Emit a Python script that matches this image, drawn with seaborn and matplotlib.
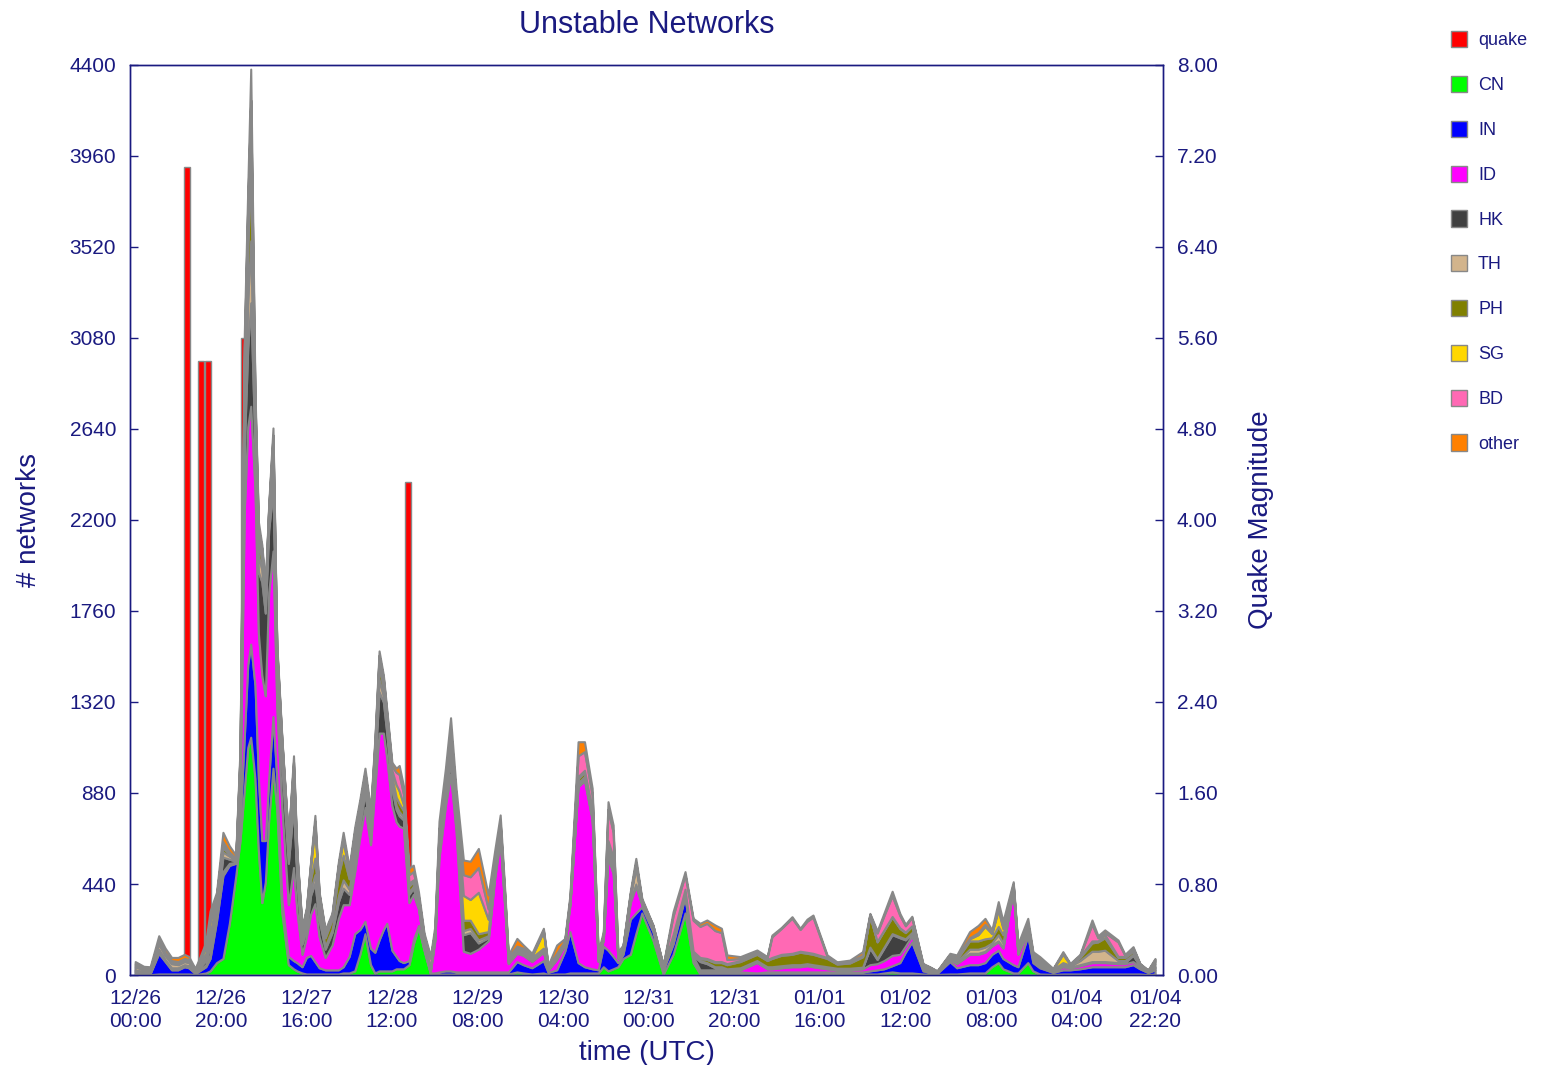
import numpy as np
import pandas as pd
import matplotlib
matplotlib.use("Agg")
import matplotlib.pyplot as plt
import seaborn as sns
from matplotlib.patches import Patch

# hours since 12/26 00:00 UTC
hours = [0, 2, 3.5, 5.5, 7, 8.5, 10, 11.5, 12.5, 14,
         15, 16.5, 17.5, 19, 20.5, 22, 23.5, 24.5, 25.5, 26.3,
         27, 28, 28.8, 29.6, 30.4, 31.2, 32.2, 33.1, 34.3, 35.8,
         37, 37.8, 39, 40, 41, 42, 43, 44.4, 46, 47.5,
         48.6, 50, 51.3, 52.5, 53.7, 55, 56, 57, 58, 58.8,
         60, 61, 61.7, 62.7, 64, 65, 66.2, 67.5, 69, 70,
         71, 72.5, 73.7, 75, 76.7, 78.3, 80.2, 82.5, 84, 85.3,
         86.4, 87.2, 89.2, 90.7, 92.7, 95.4, 96.5, 98.5, 100.4, 101.6,
         103.5, 105, 106.8, 108.2, 109.4, 110.5, 111.7, 112.8, 114, 115.7,
         117, 118.4, 121, 123.4, 125.7, 128.5, 130.4, 132, 133.6, 135.5,
         137, 138.3, 141.4, 145.3, 147.7, 148.8, 151, 153.5, 155.4, 157,
         158.4, 161.7, 164, 167, 170, 171.7, 173.4, 175, 176.9, 178.7,
         180, 181.5, 184.1, 185.7, 187.4, 190.4, 192, 195, 197, 198.6,
         200.2, 201.7, 202.8, 205.2, 206.3, 208.6, 209.8, 211.4, 214.5, 216.8,
         218.5, 220.8, 223.6, 225, 226.6, 229.7, 231.3, 233.2, 234.8, 236.7,
         238.33]

cn = [5, 3, 2, 5, 5, 5, 5, 5, 5, 3,
      5, 10, 20, 60, 80, 250, 480, 650, 900, 1100,
      1150, 950, 600, 350, 450, 750, 1000, 800, 300, 50,
      30, 20, 10, 5, 5, 5, 5, 5, 5, 5,
      10, 10, 20, 100, 200, 50, 10, 20, 20, 20,
      20, 30, 30, 30, 50, 150, 230, 120, 5, 5,
      5, 5, 5, 5, 5, 5, 5, 5, 5, 5,
      5, 5, 15, 10, 5, 10, 3, 5, 5, 10,
      10, 10, 10, 10, 40, 20, 30, 40, 80, 100,
      200, 300, 170, 5, 100, 300, 60, 5, 5, 5,
      5, 5, 5, 5, 5, 5, 5, 5, 5, 5,
      5, 5, 5, 5, 5, 5, 5, 10, 15, 10,
      10, 10, 5, 5, 3, 5, 5, 10, 10, 10,
      40, 60, 30, 10, 10, 60, 20, 5, 3, 5,
      5, 5, 5, 5, 5, 5, 5, 5, 5, 2,
      5]

ind = [10, 8, 5, 100, 60, 20, 20, 35, 30, 5,
       15, 30, 60, 200, 400, 280, 60, 100, 250, 400,
       450, 450, 350, 300, 200, 200, 250, 150, 60, 40,
       40, 40, 30, 80, 90, 60, 30, 20, 20, 20,
       30, 80, 180, 120, 60, 80, 100, 150, 200, 230,
       100, 60, 40, 30, 20, 20, 10, 5, 5, 5,
       10, 15, 15, 10, 10, 10, 10, 10, 10, 10,
       10, 10, 50, 40, 30, 60, 10, 20, 110, 200,
       50, 30, 20, 15, 100, 100, 60, 20, 20, 170,
       100, 30, 40, 20, 50, 80, 20, 10, 10, 10,
       10, 5, 10, 5, 10, 10, 10, 10, 10, 10,
       10, 10, 10, 10, 10, 15, 20, 20, 30, 50,
       100, 150, 15, 8, 5, 60, 30, 40, 40, 50,
       60, 60, 50, 40, 30, 130, 40, 30, 10, 20,
       20, 25, 35, 35, 35, 35, 35, 45, 25, 10,
       20]

idn = [5, 3, 3, 10, 5, 5, 5, 5, 5, 3,
       5, 10, 20, 20, 20, 10, 5, 150, 1100, 1150,
       1150, 950, 700, 800, 700, 900, 800, 350, 450, 250,
       450, 250, 60, 100, 200, 280, 150, 60, 120, 250,
       300, 250, 300, 450, 550, 500, 800, 1000, 950, 800,
       700, 650, 650, 650, 280, 220, 80, 20, 10, 150,
       550, 800, 950, 680, 100, 90, 110, 150, 450, 640,
       300, 40, 40, 45, 30, 40, 10, 50, 30, 130,
       850, 900, 720, 40, 30, 450, 400, 20, 20, 80,
       130, 10, 10, 5, 10, 10, 10, 10, 10, 10,
       10, 10, 10, 50, 15, 15, 20, 25, 25, 30,
       25, 15, 10, 10, 15, 30, 30, 40, 50, 40,
       30, 30, 10, 8, 3, 10, 20, 50, 50, 50,
       40, 40, 50, 360, 60, 20, 15, 10, 5, 15,
       10, 15, 20, 20, 20, 15, 15, 15, 10, 4,
       10]

hk = [5, 3, 3, 10, 5, 5, 5, 5, 5, 3,
      10, 20, 40, 40, 70, 20, 5, 60, 300, 380,
      500, 200, 300, 450, 400, 300, 300, 150, 200, 200,
      300, 150, 50, 40, 90, 100, 80, 40, 60, 80,
      80, 50, 50, 60, 70, 50, 100, 200, 150, 120,
      80, 60, 50, 40, 40, 30, 10, 5, 5, 10,
      40, 40, 60, 40, 80, 100, 30, 15, 15, 15,
      10, 5, 5, 5, 5, 5, 3, 5, 5, 5,
      10, 10, 10, 5, 5, 30, 30, 5, 5, 10,
      10, 5, 5, 3, 5, 5, 5, 40, 30, 10,
      10, 5, 5, 5, 5, 5, 5, 5, 5, 5,
      5, 5, 5, 5, 5, 80, 20, 60, 100, 80,
      30, 10, 5, 5, 2, 5, 5, 5, 5, 5,
      5, 5, 5, 5, 5, 5, 5, 5, 3, 5,
      3, 5, 5, 5, 5, 5, 5, 30, 3, 2,
      5]

th = [15, 8, 8, 25, 20, 20, 15, 15, 15, 5,
      10, 15, 20, 20, 25, 15, 5, 30, 150, 230,
      300, 80, 80, 60, 40, 50, 100, 50, 40, 40,
      50, 30, 20, 20, 30, 40, 20, 15, 15, 30,
      40, 25, 30, 30, 30, 30, 30, 60, 30, 25,
      20, 20, 20, 15, 10, 10, 5, 3, 3, 5,
      20, 30, 40, 30, 20, 20, 15, 10, 10, 10,
      10, 5, 5, 5, 5, 5, 3, 5, 5, 5,
      10, 10, 10, 5, 5, 10, 10, 5, 5, 20,
      80, 5, 5, 3, 5, 5, 5, 5, 5, 5,
      5, 5, 5, 5, 5, 5, 5, 5, 5, 5,
      5, 5, 3, 3, 3, 5, 5, 5, 5, 5,
      5, 5, 3, 3, 2, 5, 5, 20, 20, 20,
      10, 30, 20, 5, 5, 5, 5, 5, 3, 5,
      5, 20, 50, 50, 55, 10, 10, 5, 3, 2,
      15]

ph = [5, 3, 3, 5, 5, 5, 5, 5, 5, 3,
      10, 20, 40, 20, 20, 10, 5, 40, 150, 250,
      350, 70, 60, 50, 40, 30, 80, 40, 40, 40,
      60, 40, 30, 40, 50, 80, 50, 40, 50, 100,
      120, 50, 50, 20, 20, 30, 30, 60, 40, 30,
      40, 40, 40, 30, 30, 20, 10, 5, 5, 10,
      30, 30, 50, 40, 50, 40, 30, 20, 20, 20,
      15, 10, 10, 10, 10, 10, 5, 10, 5, 5,
      20, 20, 20, 10, 5, 20, 20, 5, 5, 5,
      10, 5, 5, 3, 5, 10, 10, 10, 15, 20,
      20, 20, 30, 30, 30, 40, 50, 50, 60, 50,
      50, 40, 20, 25, 50, 150, 80, 80, 80, 40,
      30, 30, 8, 5, 2, 5, 10, 40, 40, 40,
      25, 40, 40, 10, 15, 20, 10, 10, 3, 10,
      5, 15, 40, 45, 60, 15, 15, 15, 4, 2,
      10]

sg = [5, 3, 3, 5, 5, 5, 5, 5, 5, 3,
      10, 30, 60, 20, 15, 5, 3, 20, 100, 130,
      200, 50, 40, 30, 20, 20, 50, 30, 30, 25,
      80, 40, 20, 20, 60, 150, 40, 20, 15, 40,
      70, 30, 50, 40, 35, 30, 30, 40, 30, 25,
      30, 60, 60, 30, 15, 10, 5, 3, 3, 5,
      20, 20, 40, 30, 120, 100, 200, 60, 30, 25,
      15, 5, 5, 5, 5, 80, 5, 5, 5, 5,
      10, 10, 10, 5, 5, 20, 20, 5, 3, 5,
      10, 5, 3, 3, 20, 5, 5, 5, 5, 5,
      5, 5, 5, 5, 5, 5, 5, 5, 5, 5,
      5, 5, 3, 3, 3, 3, 3, 3, 3, 3,
      3, 3, 3, 2, 1, 5, 5, 10, 30, 60,
      20, 80, 30, 5, 5, 5, 5, 5, 2, 40,
      3, 5, 10, 5, 15, 5, 5, 5, 2, 1,
      5]

bd = [5, 3, 3, 10, 5, 5, 5, 5, 5, 2,
      5, 5, 10, 5, 15, 5, 2, 20, 80, 80,
      130, 30, 30, 20, 15, 10, 30, 10, 10, 8,
      20, 15, 5, 10, 15, 30, 15, 10, 5, 10,
      15, 10, 15, 10, 15, 10, 20, 15, 15, 15,
      20, 60, 80, 50, 40, 40, 30, 30, 45, 20,
      20, 20, 30, 20, 100, 110, 120, 50, 20, 15,
      10, 5, 10, 10, 5, 5, 3, 5, 2, 10,
      100, 90, 70, 10, 5, 150, 120, 5, 2, 3,
      5, 3, 2, 3, 90, 70, 150, 150, 170, 150,
      140, 20, 10, 10, 10, 100, 125, 170, 105, 150,
      175, 5, 3, 3, 5, 5, 40, 70, 100, 60,
      30, 40, 3, 2, 1, 5, 5, 5, 10, 10,
      5, 10, 10, 5, 5, 5, 5, 5, 1, 5,
      2, 5, 80, 15, 10, 70, 5, 10, 2, 0,
      5]

other = [10, 8, 10, 20, 20, 15, 20, 20, 15, 5,
         10, 20, 40, 15, 45, 30, 15, 30, 70, 80,
         150, 40, 30, 20, 15, 15, 35, 20, 10, 6,
         30, 15, 8, 10, 10, 27, 10, 9, 10, 15,
         25, 15, 20, 20, 20, 20, 20, 22, 15, 18,
         18, 20, 43, 39, 32, 31, 23, 13, 10, 23,
         49, 40, 54, 45, 71, 75, 92, 67, 40, 34,
         25, 12, 37, 15, 10, 11, 6, 40, 10, 17,
         68, 48, 33, 13, 15, 38, 35, 8, 5, 10,
         19, 8, 2, 3, 21, 15, 9, 15, 16, 27,
         21, 22, 9, 6, 4, 8, 5, 7, 6, 10,
         10, 7, 5, 8, 17, 5, 10, 12, 22, 10,
         7, 6, 4, 2, 1, 5, 12, 30, 35, 29,
         13, 30, 25, 11, 15, 24, 8, 14, 2, 8,
         3, 5, 21, 10, 13, 9, 5, 7, 2, 1,
         5]

quake_hours = [12.1, 15.4, 17.1, 25.5, 63.8]
quake_mag = [7.1, 5.4, 5.4, 5.6, 4.33]

names = ["CN", "IN", "ID", "HK", "TH", "PH", "SG", "BD", "other"]
colors = ["#00ff00", "#0000ff", "#ff00ff", "#404040", "#d2b48c",
          "#808000", "#ffd700", "#ff69b4", "#ff8000"]
navy = "#1a1a80"
edge = "#888888"

sns.set_theme(style="white")
plt.rcParams['font.family'] = ['Liberation Sans', 'DejaVu Sans']

fig = plt.figure(figsize=(15.41, 10.65), dpi=100)
ax = fig.add_axes([0.0844, 0.0845, 0.6703, 0.8545])
ax2 = ax.twinx()

# quake magnitudes as bars on the right axis, behind the areas
quakes = pd.DataFrame({"hour": quake_hours, "mag": quake_mag})
sns.barplot(data=quakes, x="hour", y="mag", native_scale=True, color="#ff0000",
            saturation=1, edgecolor=edge, linewidth=1, errorbar=None, ax=ax2)

ax.stackplot(hours, cn, ind, idn, hk, th, ph, sg, bd, other,
             colors=colors, edgecolor=edge, linewidth=1.5)
ax.set_zorder(ax2.get_zorder() + 1)
ax.patch.set_visible(False)

ax.set_xlim(-1.2, 240.2)
ax.set_ylim(0, 4400)
ax2.set_ylim(0, 8)
ax.set_yticks(np.arange(0, 4401, 440))
ax2.set_yticks(np.arange(0, 8.01, 0.8))
ax2.set_yticklabels([f"{v:.2f}" for v in np.arange(0, 8.01, 0.8)])

tick_hours = list(range(0, 221, 20)) + [238 + 1 / 3]
start = pd.Timestamp("2004-12-26 00:00")
tick_labels = [(start + pd.Timedelta(hours=h)).round("min").strftime("%m/%d\n%H:%M")
               for h in tick_hours]
ax.set_xticks(tick_hours)
ax.set_xticklabels(tick_labels, linespacing=1.3)

for a in (ax, ax2):
    a.tick_params(axis="both", direction="in", length=6, width=1, colors=navy,
                  labelsize=15, labelcolor=navy)
    for s in a.spines.values():
        s.set_color(navy)
        s.set_linewidth(1)
ax.tick_params(left=True, bottom=True, pad=10)
ax2.tick_params(right=True, pad=10)
ax2.tick_params(axis="x", bottom=False, labelbottom=False)

ax.set_title("Unstable Networks", fontsize=22, color=navy, pad=23)
ax.set_xlabel("time (UTC)", fontsize=20, color=navy, labelpad=6)
ax.set_ylabel("# networks", fontsize=20, color=navy, labelpad=20)
ax2.set_ylabel("Quake Magnitude", fontsize=20, color=navy, labelpad=22)
ax2.set_xlabel("")

handles = [Patch(facecolor="#ff0000", edgecolor=edge, linewidth=1)]
handles += [Patch(facecolor=c, edgecolor=edge, linewidth=1) for c in colors]
fig.legend(handles, ["quake"] + names, loc="upper left",
           bbox_to_anchor=(0.931, 0.986), frameon=False, fontsize=13,
           labelspacing=1.47, handlelength=0.9, handleheight=1.0,
           handletextpad=0.6, labelcolor=navy)

fig.savefig("out.png", dpi=100)
